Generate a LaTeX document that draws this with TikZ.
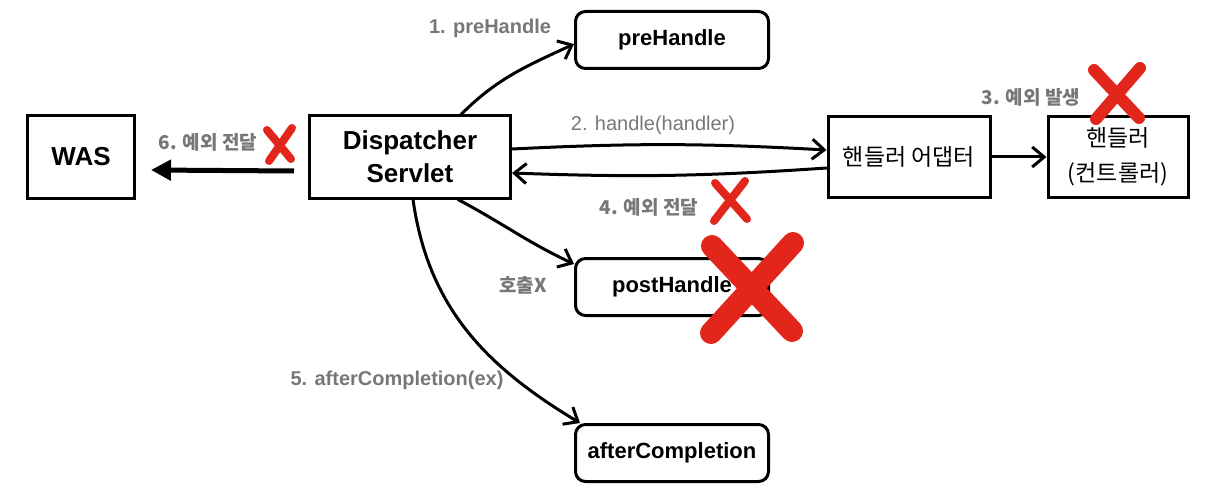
\documentclass[tikz,border=0pt]{standalone}
\usepackage{fontspec}
\setmainfont{Liberation Sans}
\newfontfamily\kr{Noto Sans CJK KR}
\usetikzlibrary{arrows.meta,positioning}
\definecolor{NoteGray}{HTML}{777777}
\definecolor{MarkRed}{HTML}{E3261B}

\begin{document}
\begin{tikzpicture}[
    x=1pt, y=1pt,
    box/.style={
      draw,
      line width=3pt,
      inner sep=0pt,
      align=center,
      font=\fontsize{26}{33}\selectfont\bfseries
    },
    rbox/.style={
      box,
      rounded corners=10pt,
      minimum width=193pt,
      minimum height=57pt,
      font=\fontsize{22}{26}\selectfont\bfseries
    },
    krbox/.style={box, font=\kr\fontsize{23}{35}\selectfont},
    note/.style={text=NoteGray, inner sep=0pt, font=\fontsize{20}{24}\selectfont\bfseries},
    krnote/.style={note, font=\kr\fontsize{19}{24}\selectfont\bfseries},
    call/.style={-{Straight Barb[length=12pt,width=20pt]}, line width=3pt, line cap=round},
    pass/.style={-{Triangle[length=20pt,width=20pt]}, line width=5pt},
    cross/.style={draw=MarkRed, line width=8pt, line cap=round}
  ]
  \useasboundingbox (0,0) rectangle (1208,-492);

  % servlet side
  \node[box, minimum width=107pt, minimum height=83pt] (was) at (81,-157) {WAS};
  \node[box, minimum width=201pt, minimum height=82pt, right=172pt of was] (disp) {Dispatcher\\Servlet};

  % interceptor calls
  \node[rbox] (pre) at (672,-40) {preHandle};
  \node[rbox, below=187pt of pre] (post) {postHandle};
  \node[rbox, below=106pt of post] (after) {afterCompletion};

  % handler side
  \node[krbox, minimum width=162pt, minimum height=80pt] (adapt) at (909,-157) {핸들러 어댑터};
  \node[krbox, minimum width=140pt, minimum height=80pt, right=55pt of adapt] (ctrl) {핸들러\\(컨트롤러)};

  \draw[call] ([xshift=51pt]disp.north) to[out=45, in=205] ([yshift=-4pt]pre.west);
  \draw[call] ([yshift=8pt]disp.east) to[bend left=3] ([yshift=7pt]adapt.west);
  \draw[call] ([yshift=-11pt]adapt.west) to[bend left=3] ([yshift=-16pt]disp.east);
  \draw[call] (adapt) -- (ctrl);
  \draw[call] ([xshift=48pt]disp.south) to[out=-28, in=155] ([yshift=-7pt]post.north west);
  \draw[call] ([xshift=3pt]disp.south) to[out=-82, in=149] ([xshift=6pt]after.north west);
  \draw[pass] ([xshift=-14pt,yshift=-14pt]disp.west) -- ([xshift=15pt,yshift=-13pt]was.east);

  \node[note] (l1) at (490,-28) {1. preHandle};
  \node[note, font=\fontsize{20}{24}\selectfont] (l2) at (653,-125) {2. handle(handler)};
  \node[krnote] (l3) at (1031,-97) {3. 예외 발생};
  \node[krnote] (l4) at (649,-207) {4. 예외 전달};
  \node[note] (l5) at (397,-380) {5. afterCompletion(ex)};
  \node[krnote] (l6) at (208,-142) {6. 예외 전달};
  \node[krnote] (l7) at (523,-285) {호출X};

  % red marks
  \draw[cross] (267,-130) -- (291,-159);
  \draw[cross] (292,-128) -- (269,-161);
  \draw[cross] (715,-183) -- (747,-219);
  \draw[cross] (745,-181) -- (714,-221);
  \draw[cross, line width=12pt] (1094,-70) -- (1139,-118);
  \draw[cross, line width=12pt] (1140,-68) -- (1096,-119);
  \draw[cross, line width=22pt] (712,-246) -- (792,-331);
  \draw[cross, line width=22pt] (793,-243) -- (711,-333);
\end{tikzpicture}
\end{document}
